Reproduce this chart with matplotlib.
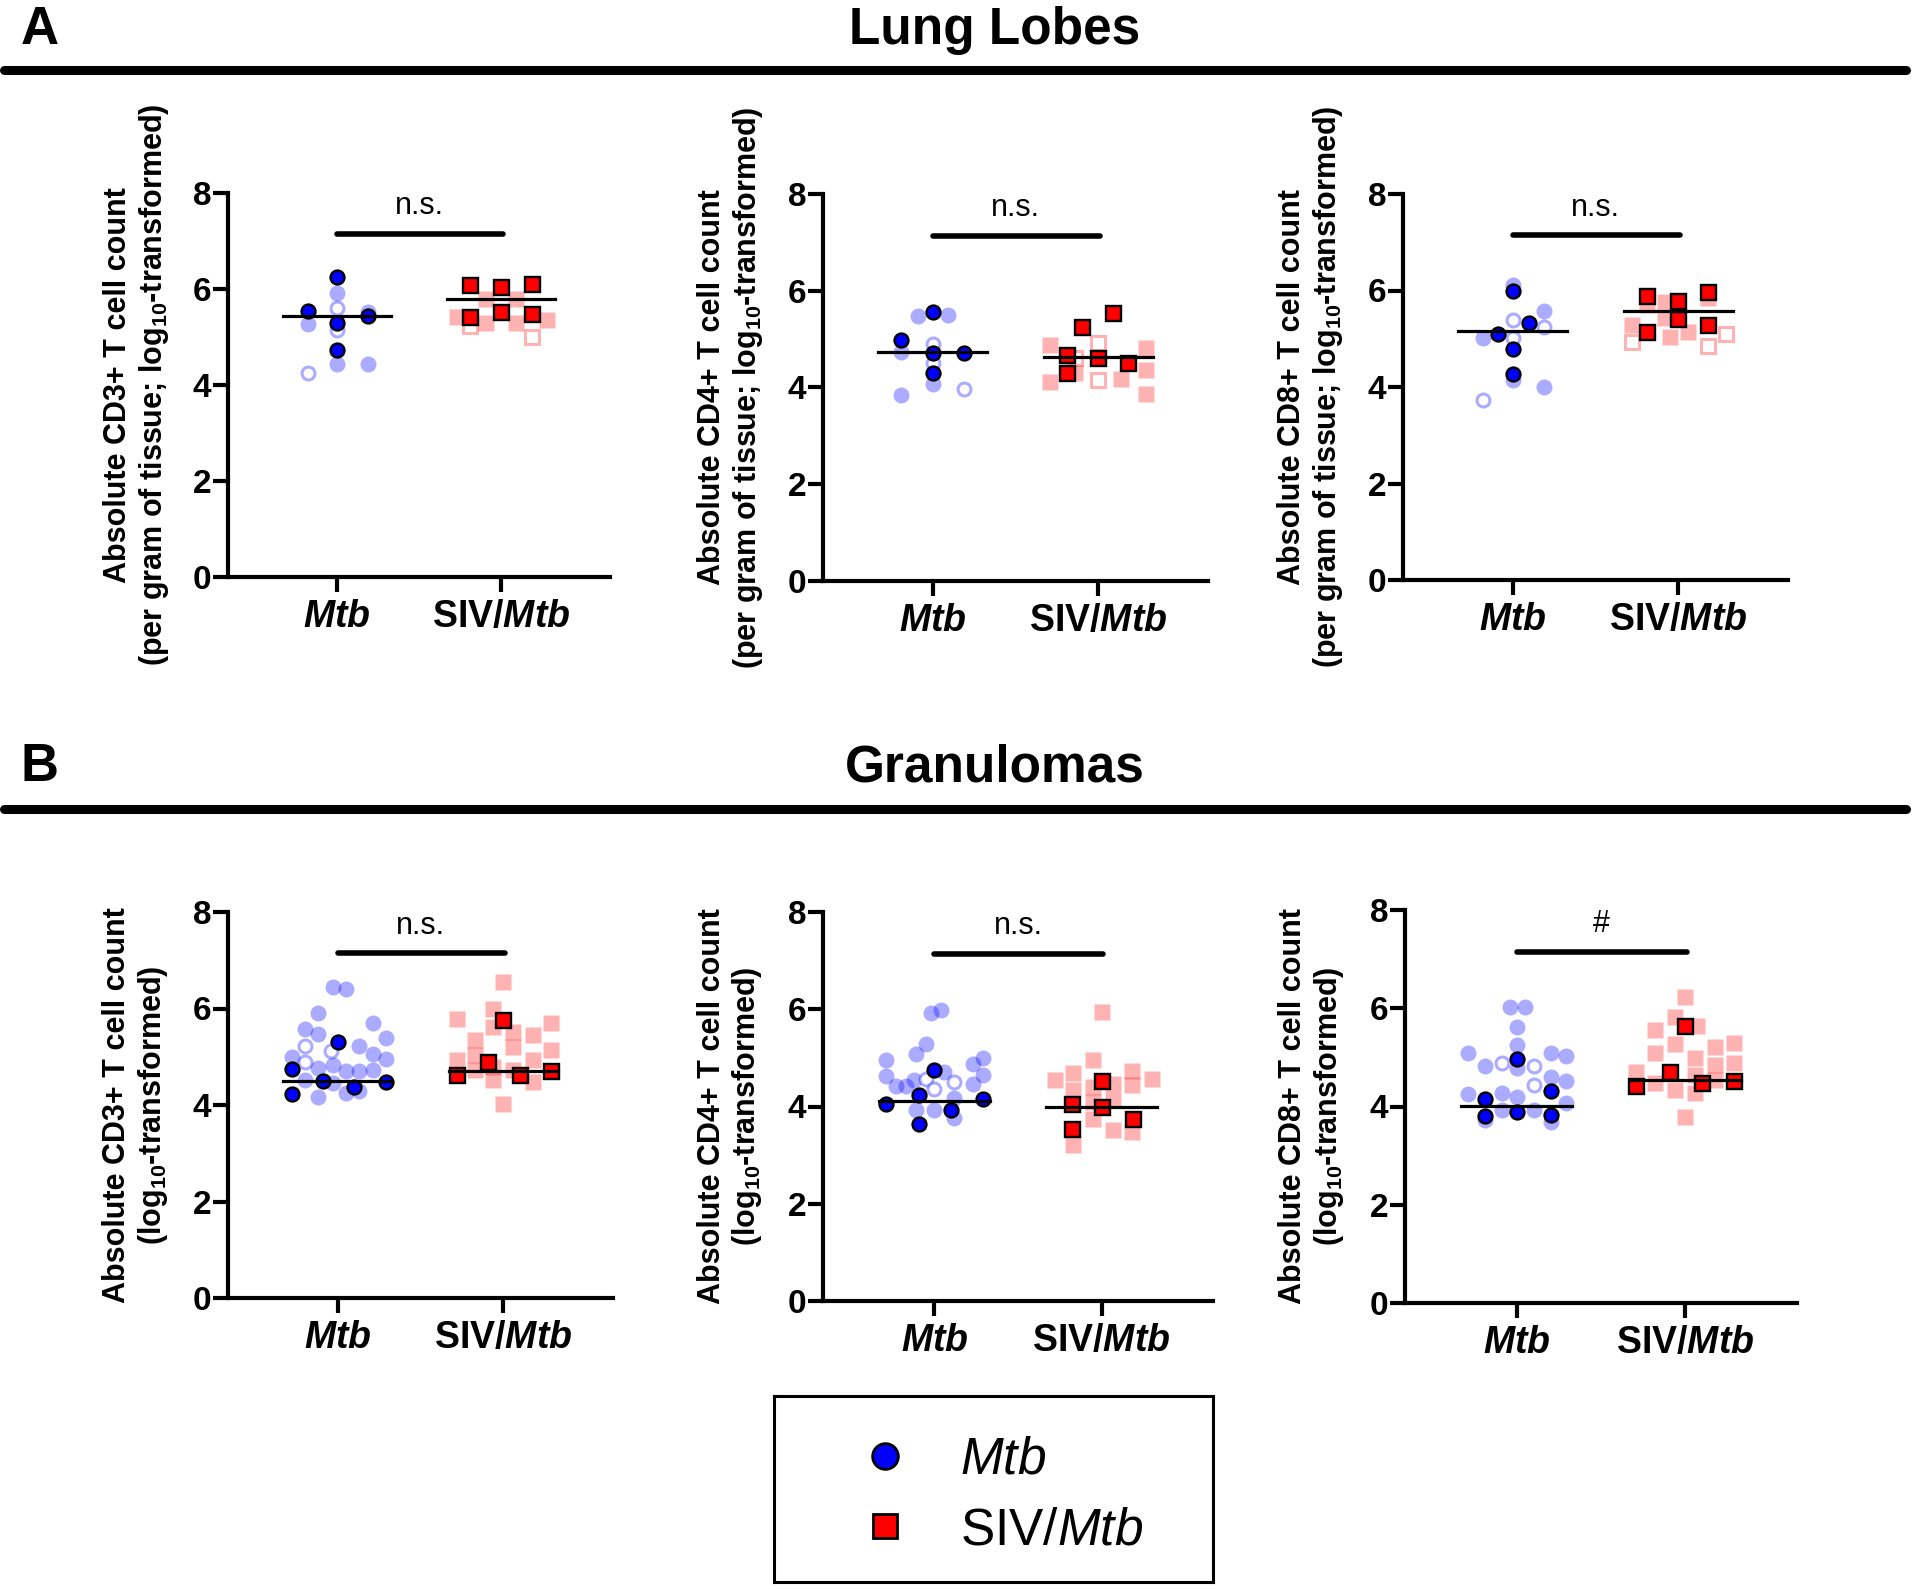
import matplotlib
matplotlib.use("Agg")
import matplotlib.pyplot as plt
from matplotlib.lines import Line2D

plt.rcParams["font.family"] = ["Liberation Sans", "DejaVu Sans"]
plt.rcParams["mathtext.fontset"] = "custom"
plt.rcParams["mathtext.rm"] = "Liberation Sans:bold"
plt.rcParams["mathtext.it"] = "Liberation Sans:italic"
plt.rcParams["mathtext.sf"] = "Liberation Sans:italic:bold"

W, H = 1920, 1589

groups = ["Mtb", "SIV/Mtb"]
group_ticklabels = [r"$\mathsf{Mtb}$", r"SIV/$\mathsf{Mtb}$"]
yticks = [0, 2, 4, 6, 8]

# (jitter offset, log10 value); dark = per animal, light = individual samples, open = open symbols
lung_cd3_mtb_dark = [(0, 6.25), (-0.18, 5.55), (0, 5.29), (0.19, 5.43), (0, 4.72)]
lung_cd3_mtb_light = [(0, 5.91), (-0.18, 5.27), (0.19, 5.53), (0, 4.44), (0.19, 4.44)]
lung_cd3_mtb_open = [(0, 5.60), (0, 5.15), (-0.18, 4.26)]
lung_cd3_siv_dark = [(-0.19, 6.09), (0, 6.04), (0.19, 6.10), (-0.19, 5.41), (0, 5.53), (0.19, 5.48)]
lung_cd3_siv_light = [(-0.09, 5.80), (0.09, 5.80), (-0.27, 5.42), (-0.09, 5.30), (0.09, 5.30), (0.28, 5.35)]
lung_cd3_siv_open = [(-0.19, 5.22), (0.19, 5.01)]
lung_cd3_medians = [5.43, 5.79]

lung_cd4_mtb_dark = [(0, 5.57), (-0.19, 4.98), (0, 4.72), (0.19, 4.72), (0, 4.29)]
lung_cd4_mtb_light = [(-0.09, 5.48), (0.09, 5.50), (-0.19, 4.74), (0, 4.08), (-0.19, 3.84)]
lung_cd4_mtb_open = [(0, 4.90), (0, 4.51), (0.19, 3.96)]
lung_cd4_siv_dark = [(0.09, 5.53), (-0.10, 5.26), (-0.19, 4.67), (-0.19, 4.30), (0, 4.61), (0.18, 4.51)]
lung_cd4_siv_light = [(-0.29, 4.88), (-0.29, 4.12), (-0.14, 4.29), (0.29, 4.81), (0.29, 4.36),
                      (0.29, 3.86), (0.14, 4.17)]
lung_cd4_siv_open = [(-0.14, 4.60), (0, 4.91), (0, 4.15)]
lung_cd4_medians = [4.73, 4.63]

lung_cd8_mtb_dark = [(0, 5.99), (-0.09, 5.09), (0.10, 5.33), (0, 4.78), (0, 4.26)]
lung_cd8_mtb_light = [(0, 6.11), (0.19, 5.58), (-0.18, 5.02), (0, 4.15), (0.19, 4.01)]
lung_cd8_mtb_open = [(0, 5.39), (0.19, 5.25), (0, 5.01), (-0.18, 3.73)]
lung_cd8_siv_dark = [(-0.19, 5.89), (0, 5.78), (0.18, 5.96), (0, 5.40), (-0.19, 5.15), (0.18, 5.28)]
lung_cd8_siv_light = [(-0.08, 5.77), (-0.19, 5.70), (-0.28, 5.28), (-0.05, 5.04), (0.06, 5.13),
                      (0.18, 5.84), (-0.08, 5.42)]
lung_cd8_siv_open = [(-0.28, 4.94), (0.18, 4.84), (0.29, 5.09)]
lung_cd8_medians = [5.17, 5.58]

gran_cd3_mtb_dark = [(-0.28, 4.74), (-0.28, 4.23), (-0.09, 4.50), (0, 5.31), (0.10, 4.38), (0.29, 4.47)]
gran_cd3_mtb_light = [(-0.03, 6.45), (0.05, 6.40), (-0.12, 5.91), (-0.20, 5.57), (-0.12, 5.48),
                      (0.21, 5.69), (0.29, 5.39), (0.13, 5.22), (0.21, 5.06), (0.29, 4.95),
                      (-0.28, 5.00), (-0.12, 4.76), (-0.03, 4.83), (0.05, 4.70), (0.13, 4.70),
                      (0.21, 4.72), (-0.20, 4.52), (-0.03, 4.46), (-0.12, 4.16), (0.05, 4.24),
                      (0.13, 4.28)]
gran_cd3_mtb_open = [(-0.20, 5.22), (-0.20, 4.90), (-0.04, 5.12)]
gran_cd3_siv_dark = [(0, 5.77), (-0.09, 4.90), (-0.28, 4.63), (0.10, 4.63), (0.29, 4.70)]
gran_cd3_siv_light = [(0, 6.55), (-0.28, 5.79), (-0.06, 6.00), (-0.17, 5.34), (-0.06, 5.62),
                      (0.06, 5.52), (0.06, 5.21), (0.18, 5.45), (0.29, 5.69), (0.29, 5.14),
                      (-0.28, 4.94), (-0.17, 5.03), (-0.17, 4.72), (-0.06, 4.79), (-0.06, 4.52),
                      (0.06, 4.72), (0.18, 4.93), (0.18, 4.48), (0, 4.03)]
gran_cd3_siv_open = []
gran_cd3_medians = [4.50, 4.71]

gran_cd4_mtb_dark = [(0, 4.76), (-0.09, 4.24), (-0.29, 4.06), (0.10, 3.92), (0.29, 4.16), (-0.09, 3.63)]
gran_cd4_mtb_light = [(-0.02, 5.92), (0.04, 5.99), (-0.05, 5.28), (-0.11, 5.07), (-0.29, 4.96),
                      (0.29, 5.00), (0.23, 4.87), (-0.29, 4.63), (0.29, 4.64), (-0.23, 4.43),
                      (-0.17, 4.43), (-0.12, 4.54), (0.06, 4.71), (0.23, 4.47), (0.12, 4.18),
                      (-0.11, 3.92), (0, 3.92), (0.12, 3.76)]
gran_cd4_mtb_open = [(-0.05, 4.57), (0, 4.37), (0.12, 4.50)]
gran_cd4_siv_dark = [(0, 4.52), (-0.18, 4.06), (0, 3.99), (0.19, 3.75), (-0.18, 3.54)]
gran_cd4_siv_light = [(0, 5.94), (-0.05, 4.95), (-0.28, 4.55), (-0.17, 4.69), (-0.17, 4.33),
                      (-0.05, 4.40), (0.07, 4.47), (0.18, 4.74), (0.18, 4.45), (0.30, 4.57),
                      (-0.05, 3.75), (0.07, 4.13), (0.07, 3.51), (0.18, 3.48), (-0.17, 3.20),
                      (-0.05, 4.09)]
gran_cd4_siv_open = []
gran_cd4_medians = [4.11, 3.99]

gran_cd8_mtb_dark = [(0, 4.96), (-0.19, 4.15), (0.20, 4.31), (-0.19, 3.80), (0, 3.88), (0.20, 3.83)]
gran_cd8_mtb_light = [(-0.04, 6.03), (0.05, 6.03), (0, 5.61), (0, 5.25), (-0.29, 5.08),
                      (0.20, 5.08), (0.29, 5.02), (-0.19, 4.83), (0, 4.78), (0.20, 4.61),
                      (0.29, 4.52), (-0.29, 4.26), (-0.09, 4.28), (0, 4.20), (0.29, 4.07),
                      (-0.09, 3.93), (0.10, 3.93), (0.20, 3.69), (-0.19, 3.72)]
gran_cd8_mtb_open = [(-0.09, 4.89), (0.10, 4.83), (0.10, 4.44)]
gran_cd8_siv_dark = [(0, 5.64), (-0.09, 4.71), (-0.29, 4.42), (0.10, 4.47), (0.29, 4.52)]
gran_cd8_siv_light = [(0, 6.22), (-0.06, 5.83), (-0.18, 5.56), (0.07, 5.63), (-0.06, 5.27),
                      (-0.18, 5.08), (0.18, 5.22), (0.29, 5.30), (0.06, 4.98), (0.18, 4.85),
                      (0.29, 4.88), (-0.29, 4.71), (-0.18, 4.47), (-0.06, 4.34), (0.06, 4.27),
                      (0.18, 4.54), (0.06, 4.64), (0, 3.78)]
gran_cd8_siv_open = []
gran_cd8_medians = [4.01, 4.53]

significance = ["n.s.", "n.s.", "n.s.", "n.s.", "n.s.", "#"]

lung_ylabels = [
    "Absolute CD3+ T cell count\n(per gram of tissue; log$_{10}$-transformed)",
    "Absolute CD4+ T cell count\n(per gram of tissue; log$_{10}$-transformed)",
    "Absolute CD8+ T cell count\n(per gram of tissue; log$_{10}$-transformed)",
]
gran_ylabels = [
    "Absolute CD3+ T cell count\n(log$_{10}$-transformed)",
    "Absolute CD4+ T cell count\n(log$_{10}$-transformed)",
    "Absolute CD8+ T cell count\n(log$_{10}$-transformed)",
]

panels = [
    (lung_cd3_mtb_dark, lung_cd3_mtb_light, lung_cd3_mtb_open,
     lung_cd3_siv_dark, lung_cd3_siv_light, lung_cd3_siv_open, lung_cd3_medians),
    (lung_cd4_mtb_dark, lung_cd4_mtb_light, lung_cd4_mtb_open,
     lung_cd4_siv_dark, lung_cd4_siv_light, lung_cd4_siv_open, lung_cd4_medians),
    (lung_cd8_mtb_dark, lung_cd8_mtb_light, lung_cd8_mtb_open,
     lung_cd8_siv_dark, lung_cd8_siv_light, lung_cd8_siv_open, lung_cd8_medians),
    (gran_cd3_mtb_dark, gran_cd3_mtb_light, gran_cd3_mtb_open,
     gran_cd3_siv_dark, gran_cd3_siv_light, gran_cd3_siv_open, gran_cd3_medians),
    (gran_cd4_mtb_dark, gran_cd4_mtb_light, gran_cd4_mtb_open,
     gran_cd4_siv_dark, gran_cd4_siv_light, gran_cd4_siv_open, gran_cd4_medians),
    (gran_cd8_mtb_dark, gran_cd8_mtb_light, gran_cd8_mtb_open,
     gran_cd8_siv_dark, gran_cd8_siv_light, gran_cd8_siv_open, gran_cd8_medians),
]
ylabels = lung_ylabels + gran_ylabels

# axes boxes in pixels: left, top, right, bottom
boxes = [(228, 193, 610, 577), (823, 194, 1208, 581), (1403, 194, 1788, 580),
         (228, 912, 613, 1298), (823, 912, 1213, 1301), (1405, 910, 1797, 1303)]

blue, red = "#0000ff", "#ff0000"
light_blue = (0, 0, 1, 0.33)
light_red = (1, 0, 0, 0.30)


def px_rect(l, t, r, b):
    return [l / W, 1 - b / H, (r - l) / W, (b - t) / H]


def scatter(ax, pts, x0, **kw):
    if not pts:
        return
    xs = [x0 + dx for dx, _ in pts]
    ys = [v for _, v in pts]
    ax.plot(xs, ys, linestyle="none", **kw)


fig = plt.figure(figsize=(W / 100, H / 100), dpi=100)

for i, (panel, box) in enumerate(zip(panels, boxes)):
    m_dark, m_light, m_open, s_dark, s_light, s_open, medians = panel
    ax = fig.add_axes(px_rect(*box))

    scatter(ax, m_light, 0, marker="o", ms=11.5, mfc=light_blue, mec="none", zorder=2)
    scatter(ax, s_light, 1, marker="s", ms=12, mfc=light_red, mec="none", zorder=2)
    scatter(ax, m_open, 0, marker="o", ms=9.3, mfc="white", mec=light_blue, mew=2.2, zorder=3)
    scatter(ax, s_open, 1, marker="s", ms=10, mfc="white", mec=light_red, mew=2.2, zorder=3)
    scatter(ax, m_dark, 0, marker="o", ms=10, mfc=blue, mec="black", mew=1.7, zorder=4)
    scatter(ax, s_dark, 1, marker="s", ms=10.8, mfc=red, mec="black", mew=1.7, zorder=4)

    for gx, med in enumerate(medians):
        ax.plot([gx - 0.33, gx + 0.33], [med, med], color="black", lw=2.3, zorder=5)

    ax.plot([0, 1.01], [7.14, 7.14], color="black", lw=4, solid_capstyle="round", zorder=5)
    ax.text(0.5, 7.72, significance[i], ha="center", va="center", fontsize=22)

    ax.set_xlim(-0.665, 1.665)
    ax.set_ylim(0, 8)
    ax.set_yticks(yticks)
    ax.set_yticklabels([str(t) for t in yticks], fontsize=24, fontweight="bold")
    ax.set_xticks([0, 1])
    ax.set_xticklabels(group_ticklabels, fontsize=27, fontweight="bold")
    ax.tick_params(axis="both", width=3, length=11, color="black")
    ax.tick_params(axis="y", pad=1)
    ax.tick_params(axis="x", pad=5)
    for side in ["top", "right"]:
        ax.spines[side].set_visible(False)
    for side in ["left", "bottom"]:
        ax.spines[side].set_linewidth(3)
    ax.set_ylabel(ylabels[i], fontsize=22, fontweight="bold", linespacing=1.15)
    ax.yaxis.set_label_coords(-0.15, 0.5)

# section headers
for letter, title, base, line_y in [("A", "Lung Lobes", 44, 70), ("B", "Granulomas", 781, 809)]:
    fig.text(21 / W, 1 - base / H, letter, fontsize=38, fontweight="bold", ha="left", va="baseline")
    fig.text(995 / W, 1 - base / H, title, fontsize=37, fontweight="bold", ha="center", va="baseline")
    fig.add_artist(Line2D([4 / W, 1906 / W], [1 - line_y / H] * 2, lw=6.5, color="black",
                          solid_capstyle="round"))

# legend box
lax = fig.add_axes(px_rect(774, 1396, 1213, 1582))
lax.set_xticks([])
lax.set_yticks([])
for sp in lax.spines.values():
    sp.set_linewidth(2.2)
handles = [
    Line2D([], [], linestyle="none", marker="o", ms=18.5, mfc=blue, mec="black", mew=2),
    Line2D([], [], linestyle="none", marker="s", ms=17, mfc=red, mec="black", mew=2),
]
lax.legend(handles, [r"$\mathit{Mtb}$", r"SIV/$\mathit{Mtb}$"], loc="center left",
           bbox_to_anchor=(0.195, 0.465), frameon=False, fontsize=37, handlelength=1.0,
           handletextpad=0.95, labelspacing=0.42, borderpad=0, borderaxespad=0)

fig.savefig("out.png", dpi=100)
